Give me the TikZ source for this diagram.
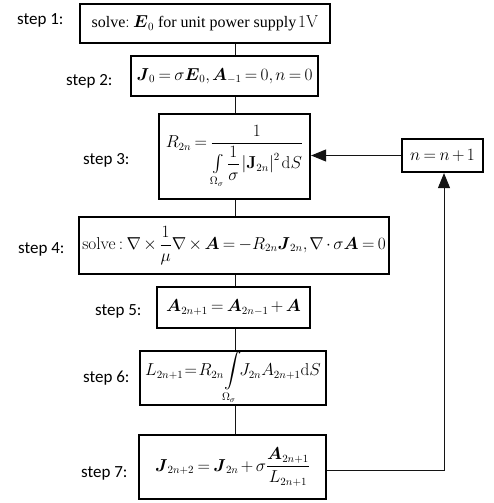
\documentclass[tikz,border=0pt]{standalone}
\usepackage{amsmath}
\usepackage[no-math]{fontspec}
\setmainfont{Liberation Serif}
\newfontfamily\labelfont{Carlito}
\usetikzlibrary{
  arrows.meta,
  positioning,
  calc
}
\definecolor{boxcolor}{RGB}{0, 0, 0}
\definecolor{linecolor}{RGB}{20, 20, 20}
\definecolor{labelcolor}{RGB}{0, 0, 0}
\newcommand{\tightmath}{\medmuskip=2.5mu\thickmuskip=3.5mu\thinmuskip=2mu}
\tikzset{
stepblock/.style={
  draw=boxcolor,
  line width=2.2pt,
  inner sep=0pt,
  align=center,
  font=\fontsize{16}{19}\selectfont\tightmath
},
steplabel/.style={
  anchor=east,
  text=labelcolor,
  font=\labelfont\fontsize{17}{20}\selectfont
},
link/.style={
  draw=linecolor,
  line width=1pt
},
arrow/.style={
  link,
  -{Triangle[length=15pt,width=12pt]}
}
}

\begin{document}
\begin{tikzpicture}[x=1pt, y=-1pt]
  \useasboundingbox (0, 0) rectangle (493, 503);

  % --- step 1 ---
  \node[stepblock, minimum width=250pt, minimum height=39pt] (s1) at (205, 23.5)
    {solve$:\boldsymbol{E}_0$ for unit power supply$\,1\mathrm{V}$};
  \node[steplabel] (l1) at (67, 20) {step 1:};

  % --- step 2 ---
  \node[stepblock, minimum width=187pt, minimum height=40pt] (s2) at (224.5, 76)
    {$\boldsymbol{J}_0=\sigma\boldsymbol{E}_0,\boldsymbol{A}_{-1}=0,n=0$};
  \node[steplabel] (l2) at (116, 81) {step 2:};

  % --- step 3 ---
  \node[stepblock, minimum width=151pt, minimum height=85pt] (s3) at (234.5, 156.5)
    {$\displaystyle R_{2n}=\frac{1}{\int\limits_{\Omega_\sigma}\dfrac{1}{\sigma}\left|\mathbf{J}_{2n}\right|^2\mathrm{d}S}$};
  \node[steplabel] (l3) at (133, 160) {step 3:};

  % --- loop counter ---
  \node[stepblock, minimum width=81pt, minimum height=33pt] (sn) at (442.5, 155.5)
    {$n=n+1$};

  % --- step 4 ---
  \node[stepblock, minimum width=310pt, minimum height=57pt] (s4) at (234, 245.5)
    {$\displaystyle \mathrm{solve}:\nabla\times\frac{1}{\mu}\nabla\times\boldsymbol{A}=-R_{2n}\boldsymbol{J}_{2n},\nabla\cdot\sigma\boldsymbol{A}=0$};
  \node[steplabel] (l4) at (68, 249) {step 4:};

  % --- step 5 ---
  \node[stepblock, minimum width=153pt, minimum height=41pt] (s5) at (233.5, 307.5)
    {$\boldsymbol{A}_{2n+1}=\boldsymbol{A}_{2n-1}+\boldsymbol{A}$};
  \node[steplabel] (l5) at (145, 311) {step 5:};

  % --- step 6 ---
  \node[stepblock, minimum width=186pt, minimum height=54pt] (s6) at (233, 378)
    {$\displaystyle L_{2n+1}\!=\!R_{2n}\!\int\limits_{\Omega_\sigma}\!\!J_{2n}A_{2n+1}\mathrm{d}S$};
  \node[steplabel] (l6) at (133, 378) {step 6:};

  % --- step 7 ---
  \node[stepblock, minimum width=187pt, minimum height=64pt] (s7) at (232.5, 467)
    {$\displaystyle \boldsymbol{J}_{2n+2}=\boldsymbol{J}_{2n}+\sigma\frac{\boldsymbol{A}_{2n+1}}{L_{2n+1}}$};
  \node[steplabel] (l7) at (131, 473) {step 7:};

  % --- connectors ---
  \coordinate (spine) at (235, 0);
  \draw[link] (s1.south -| spine) -- (s2.north -| spine);
  \draw[link] (s2.south -| spine) -- (s3.north -| spine);
  \draw[link] (s3.south -| spine) -- (s4.north -| spine);
  \draw[link] (s4.south -| spine) -- (s5.north -| spine);
  \draw[link] (s5.south -| spine) -- (s6.north -| spine);
  \draw[link] (s6.south -| spine) -- (s7.north -| spine);
  \coordinate (turn) at (444, 470);
  \draw[arrow] (s7.east |- turn) -- (turn) -- (sn.south -| turn);
  \draw[arrow] (sn.west) -- (s3.east |- sn.west);
\end{tikzpicture}
\end{document}
